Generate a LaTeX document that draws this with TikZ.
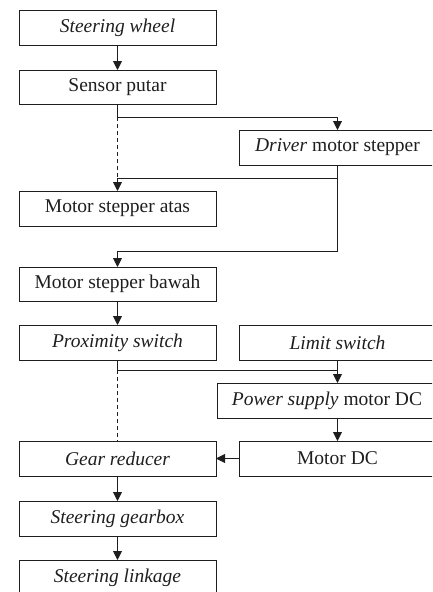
\documentclass[tikz,border=0pt]{standalone}
\usepackage{fontspec}
\setmainfont{Liberation Serif}
\usepackage{xcolor}
\usetikzlibrary{positioning,arrows.meta,calc}
\definecolor{flowInk}{HTML}{1E1E1E}
\tikzset{
  flowbox/.style={draw=flowInk,line width=0.9pt,minimum width=197pt,minimum height=35pt,
    inner sep=2pt,outer sep=0pt,text=flowInk,font=\fontsize{19.5}{23}\selectfont},
  flowarrow/.style={-{Triangle[length=9pt,width=9pt]},line width=0.9pt,draw=flowInk},
  flowline/.style={line width=0.9pt,draw=flowInk},
  flowdash/.style={flowline,dash pattern=on 4pt off 3pt}
}

\begin{document}
\begin{tikzpicture}[x=1pt,y=-1pt]
    \useasboundingbox (0,0) rectangle (432,592);
    \clip (0,0) rectangle (432,592);
    \node[flowbox] (wheel) at (117.5,27.5) {\textit{Steering wheel}};
    \node[flowbox,minimum height=34pt,below=25pt of wheel] (sensor) {Sensor putar};
    \node[flowbox,below=87pt of sensor] (atas) {Motor stepper atas};
    \node[flowbox,minimum height=34pt,below=41pt of atas] (bawah) {Motor stepper bawah};
    \node[flowbox,below=24pt of bawah] (prox) {\textit{Proximity switch}};
    \node[flowbox,below=81pt of prox] (gear) {\textit{Gear reducer}};
    \node[flowbox,below=25pt of gear] (gearbox) {\textit{Steering gearbox}};
    \node[flowbox,below=24pt of gearbox] (linkage) {\textit{Steering linkage}};
    \node[flowbox] (driver) at (337.5,147.5) {\textit{Driver} motor stepper};
    \node[flowbox,right=23pt of prox] (limit) {\textit{Limit switch}};
    \node[flowbox,minimum width=220pt] (power) at (327,400.5) {\textit{Power supply} motor DC};
    \node[flowbox,right=23pt of gear] (motordc) {Motor DC};
    \coordinate (split1) at (sensor.south |- 0,117);
    \coordinate (join1) at (sensor.south |- 0,178);
    \coordinate (join2) at (sensor.south |- 0,251);
    \coordinate (split2) at (prox.south |- 0,370);
    \draw[flowarrow] (wheel) -- (sensor);
    \draw[flowline] (sensor) -- (split1);
    \draw[flowarrow] (split1) -| (driver.north);
    \draw[flowdash] (split1) -- (join1);
    \draw[flowarrow] (driver.south) |- (join1) -- (atas.north);
    \draw[flowarrow] (driver.south) |- (join2) -- (bawah.north);
    \draw[flowarrow] (bawah) -- (prox);
    \draw[flowline] (prox) -- (split2);
    \draw[flowline] (limit) -- (limit.south |- split2);
    \draw[flowarrow] (split2) -| (limit.south |- power.north);
    \draw[flowdash] (split2) -- (gear);
    \draw[flowarrow] (motordc.north |- power.south) -- (motordc);
    \draw[flowarrow] (motordc) -- (gear);
    \draw[flowarrow] (gear) -- (gearbox);
    \draw[flowarrow] (gearbox) -- (linkage);
\end{tikzpicture}
\end{document}
